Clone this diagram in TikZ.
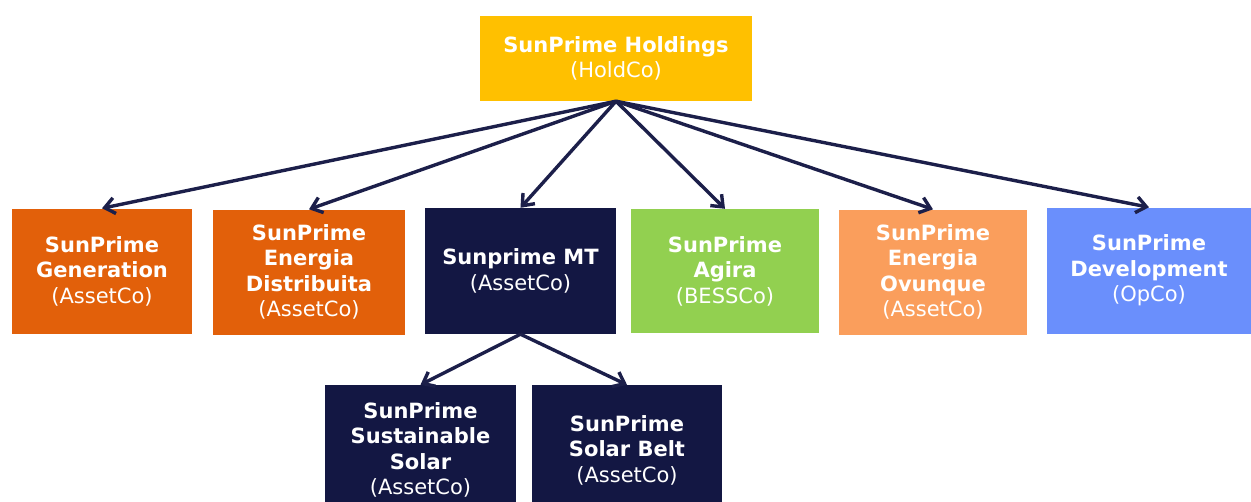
\documentclass[tikz,border=0pt]{standalone}
\usepackage{fontspec}
\setmainfont{DejaVu Sans}
\usetikzlibrary{arrows.meta}
\definecolor{cgold}{HTML}{FFC000}
\definecolor{corange}{HTML}{E2600A}
\definecolor{cnavy}{HTML}{131743}
\definecolor{cgreen}{HTML}{92D050}
\definecolor{cpeach}{HTML}{FA9E5C}
\definecolor{cblue}{HTML}{6A8FFC}
\definecolor{cline}{HTML}{1C1F4A}
\tikzset{
  box/.style={rectangle, inner sep=0pt, text=white, align=center,
    font=\fontsize{21}{25.5}\selectfont},
  conn/.style={draw=cline, line width=3.4pt, -{Straight Barb[length=10pt,width=16pt]}},
}
\newcommand{\bt}[1]{\textbf{#1}}
\begin{document}
\begin{tikzpicture}[x=1pt,y=-1pt]
\useasboundingbox (0,0) rectangle (1251,501);
\node[box, fill=cgold, minimum width=272pt, minimum height=85pt] (hold) at (616,58.5) {\bt{SunPrime Holdings}\\(HoldCo)};
\node[box, fill=corange, minimum width=180pt, minimum height=125pt] (gen) at (102,271) {\bt{SunPrime}\\\bt{Generation}\\(AssetCo)};
\node[box, fill=corange, minimum width=192pt, minimum height=125pt] (dist) at (309,272) {\bt{SunPrime}\\\bt{Energia}\\\bt{Distribuita}\\(AssetCo)};
\node[box, fill=cnavy, minimum width=191pt, minimum height=126pt] (mt) at (520.5,271) {\bt{Sunprime MT}\\(AssetCo)};
\node[box, fill=cgreen, minimum width=188pt, minimum height=124pt] (agira) at (725,271) {\bt{SunPrime}\\\bt{Agira}\\(BESSCo)};
\node[box, fill=cpeach, minimum width=188pt, minimum height=125pt] (ovu) at (933,272) {\bt{SunPrime}\\\bt{Energia}\\\bt{Ovunque}\\(AssetCo)};
\node[box, fill=cblue, minimum width=204pt, minimum height=126pt] (dev) at (1149,270.5) {\bt{SunPrime}\\\bt{Development}\\(OpCo)};
\node[box, fill=cnavy, minimum width=191pt, minimum height=130pt] (sus) at (420.5,450) {\bt{SunPrime}\\\bt{Sustainable}\\\bt{Solar}\\(AssetCo)};
\node[box, fill=cnavy, minimum width=190pt, minimum height=130pt] (belt) at (627,450) {\bt{SunPrime}\\\bt{Solar Belt}\\(AssetCo)};
\draw[conn] (hold.south) -- (gen.north);
\draw[conn] (hold.south) -- (dist.north);
\draw[conn] (hold.south) -- (mt.north);
\draw[conn] (hold.south) -- (agira.north);
\draw[conn] (hold.south) -- (ovu.north);
\draw[conn] (hold.south) -- (dev.north);
\draw[conn] (mt.south) -- (sus.north);
\draw[conn] (mt.south) -- (belt.north);
\end{tikzpicture}
\end{document}
